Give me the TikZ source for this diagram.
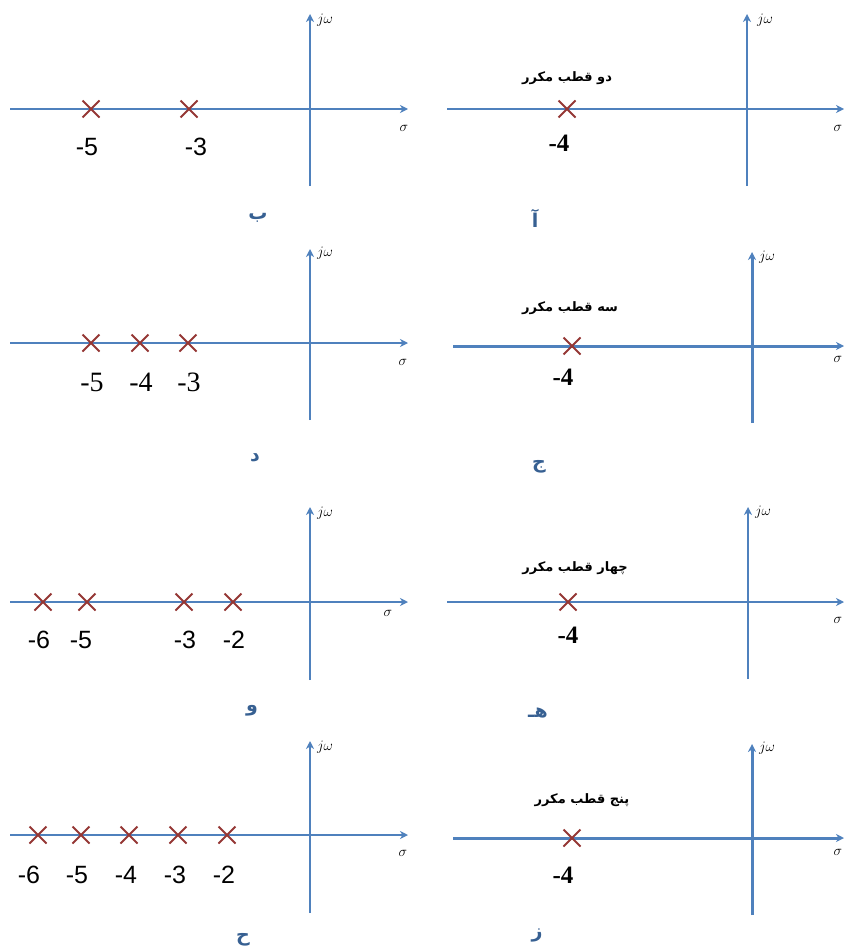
\documentclass[tikz,border=0pt]{standalone}
\usepackage{fontspec}
\usetikzlibrary{arrows.meta,shapes.misc}
\TeXXeTstate=1
\newfontfamily\farsifont[Script=Arabic]{DejaVu Sans}
\newfontfamily\sansdigits{Liberation Sans}
\newfontfamily\serifdigits{Liberation Serif}
\definecolor{axisblue}{RGB}{79,129,189}
\definecolor{polered}{RGB}{149,55,53}
\definecolor{tagblue}{RGB}{55,96,146}
\tikzset{
  planeaxis/.style={axisblue, line width=2pt, -{Stealth[length=8pt,width=8pt,inset=2.5pt]}},
  heavyaxis/.style={planeaxis, line width=3pt},
  pole/.style={cross out, draw=polered, line width=2pt, minimum size=15pt, inner sep=0pt},
  sansnum/.style={font=\sansdigits\fontsize{25}{25}\selectfont, inner sep=0pt},
  serifnum/.style={font=\serifdigits\fontsize{28}{28}\selectfont, inner sep=0pt},
  boldnum/.style={font=\serifdigits\bfseries\fontsize{25}{25}\selectfont, inner sep=0pt},
  axlabel/.style={font=\fontsize{14}{14}\selectfont, inner sep=0pt},
  farsi/.style={font=\farsifont\bfseries\fontsize{13}{15}\selectfont, inner sep=0pt},
  tag/.style={font=\farsifont\bfseries\fontsize{19}{19}\selectfont, text=tagblue, inner sep=0pt}
}
\begin{document}
\begin{tikzpicture}[x=1pt, y=-1pt]
  \useasboundingbox (0,0) rectangle (844,950);

  % (a) two repeated poles at -4
  \coordinate (aL) at (447,109); \coordinate (aR) at (844,109);
  \coordinate (aD) at (747,186); \coordinate (aU) at (747,14);
  \draw[planeaxis] (aL) -- (aR);
  \draw[planeaxis] (aD) -- (aU);
  \node[pole] (pa4) at (567,109) {};
  \node[boldnum] (na4) at (559,143) {-4};
  \node[farsi] (ta) at (567,78) {\beginR دو قطب مکرر\endR};
  \node[axlabel] (sa) at (838,128) {$\sigma$};
  \node[axlabel] (wa) at (765,20) {$j\omega$};
  \node[tag] (la) at (535,218) {آ};

  % (b) poles at -5 and -3
  \coordinate (bL) at (10,109); \coordinate (bR) at (408,109);
  \coordinate (bD) at (310,186); \coordinate (bU) at (310,14);
  \draw[planeaxis] (bL) -- (bR);
  \draw[planeaxis] (bD) -- (bU);
  \foreach \x/\v/\t in {91/5/87, 189/3/196}{
    \node[pole] (pb\v) at (\x,109) {};
    \node[sansnum] (nb\v) at (\t,147) {-\v};
  }
  \node[axlabel] (sb) at (404,128) {$\sigma$};
  \node[axlabel] (wb) at (325,20) {$j\omega$};
  \node[tag] (lb) at (258,218) {ب};

  % (c) three repeated poles at -4
  \coordinate (cL) at (453,346); \coordinate (cR) at (844,346);
  \coordinate (cD) at (752,423); \coordinate (cU) at (752,252);
  \draw[heavyaxis] (cL) -- (cR);
  \draw[heavyaxis] (cD) -- (cU);
  \node[pole] (pc4) at (572,346) {};
  \node[boldnum] (nc4) at (563,377) {-4};
  \node[farsi] (tc) at (570,308) {\beginR سه قطب مکرر\endR};
  \node[axlabel] (sc) at (838,359) {$\sigma$};
  \node[axlabel] (wc) at (767,257) {$j\omega$};
  \node[tag] (lc) at (539,467) {ج};

  % (d) poles at -5, -4, -3
  \coordinate (dL) at (10,343); \coordinate (dR) at (408,343);
  \coordinate (dD) at (310,420); \coordinate (dU) at (310,249);
  \draw[planeaxis] (dL) -- (dR);
  \draw[planeaxis] (dD) -- (dU);
  \foreach \x/\v/\t in {91/5/92, 140/4/141, 188/3/189}{
    \node[pole] (pd\v) at (\x,343) {};
    \node[serifnum] (nd\v) at (\t,382) {-\v};
  }
  \node[axlabel] (sd) at (403,362) {$\sigma$};
  \node[axlabel] (wd) at (325,253) {$j\omega$};
  \node[tag] (ld) at (255,458) {د};

  % (e) four repeated poles at -4
  \coordinate (eL) at (447,602); \coordinate (eR) at (844,602);
  \coordinate (eD) at (748,679); \coordinate (eU) at (748,507);
  \draw[planeaxis] (eL) -- (eR);
  \draw[planeaxis] (eD) -- (eU);
  \node[pole] (pe4) at (568,602) {};
  \node[boldnum] (ne4) at (568,635) {-4};
  \node[farsi] (te) at (575,568) {\beginR چهار قطب مکرر\endR};
  \node[axlabel] (se) at (838,620) {$\sigma$};
  \node[axlabel] (we) at (763,512) {$j\omega$};
  \node[tag] (le) at (538,713) {\beginR هـ\endR};

  % (f) poles at -6, -5, -3, -2
  \coordinate (fL) at (10,602); \coordinate (fR) at (408,602);
  \coordinate (fD) at (310,680); \coordinate (fU) at (310,507);
  \draw[planeaxis] (fL) -- (fR);
  \draw[planeaxis] (fD) -- (fU);
  \foreach \x/\v/\t in {43/6/39, 87/5/81, 184/3/185, 233/2/234}{
    \node[pole] (pf\v) at (\x,602) {};
    \node[sansnum] (nf\v) at (\t,640) {-\v};
  }
  \node[axlabel] (sf) at (388,613) {$\sigma$};
  \node[axlabel] (wf) at (325,513) {$j\omega$};
  \node[tag] (lf) at (252,711) {و};

  % (g) five repeated poles at -4
  \coordinate (gL) at (453,838); \coordinate (gR) at (844,838);
  \coordinate (gD) at (752,915); \coordinate (gU) at (752,744);
  \draw[heavyaxis] (gL) -- (gR);
  \draw[heavyaxis] (gD) -- (gU);
  \node[pole] (pg4) at (572,838) {};
  \node[boldnum] (ng4) at (563,875) {-4};
  \node[farsi] (tg) at (582,800) {\beginR پنج قطب مکرر\endR};
  \node[axlabel] (sg) at (838,852) {$\sigma$};
  \node[axlabel] (wg) at (767,748) {$j\omega$};
  \node[tag] (lg) at (537,935) {ز};

  % (h) poles at -6 ... -2
  \coordinate (hL) at (10,835); \coordinate (hR) at (408,835);
  \coordinate (hD) at (310,913); \coordinate (hU) at (310,741);
  \draw[planeaxis] (hL) -- (hR);
  \draw[planeaxis] (hD) -- (hU);
  \foreach \x/\v/\t in {38/6/29, 81/5/77, 129/4/126, 178/3/175, 227/2/224}{
    \node[pole] (ph\v) at (\x,835) {};
    \node[sansnum] (nh\v) at (\t,875) {-\v};
  }
  \node[axlabel] (sh) at (403,853) {$\sigma$};
  \node[axlabel] (wh) at (325,747) {$j\omega$};
  \node[tag] (lh) at (243,940) {ح};
\end{tikzpicture}
\end{document}
